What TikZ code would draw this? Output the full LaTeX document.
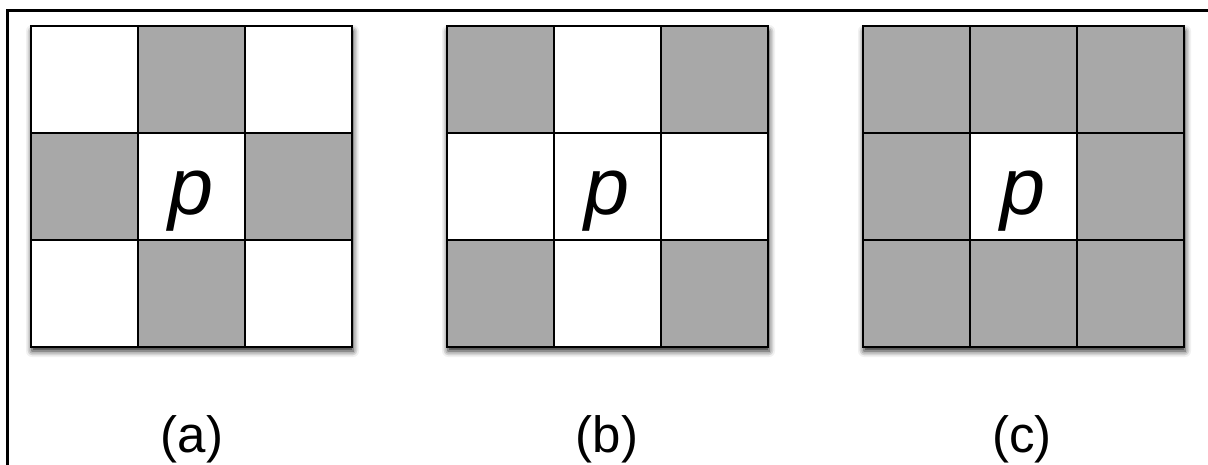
\documentclass[tikz,border=0pt]{standalone}
\usepackage{fontspec}
\setmainfont{Liberation Sans}
\usetikzlibrary{shadows.blur}
\definecolor{cellgray}{HTML}{A8A8A8}
\tikzset{
  cell/.style={draw=black, line width=1.6pt, minimum size=107pt, inner sep=0pt, outer sep=0pt, anchor=north west},
  gridframe/.style={draw=black, line width=2.8pt},
  shadowbox/.style={fill=white, blur shadow={shadow xshift=1pt, shadow yshift=-5pt, shadow blur radius=6pt, shadow opacity=90}},
  plabel/.style={font=\fontsize{81}{90}\selectfont\itshape, anchor=base, inner sep=0pt},
  caption/.style={font=\fontsize{51}{60}\selectfont, anchor=base, inner sep=0pt},
  frameline/.style={draw=black, line width=3pt}
}
\begin{document}
\begin{tikzpicture}[x=1pt,y=-1pt]
\useasboundingbox (0,0) rectangle (1208,464);
\coordinate (fbl) at (7,470);
\coordinate (ftl) at (7,10);
\coordinate (ftr) at (1212,10);
\draw[frameline] (fbl) -- (ftl) -- (ftr);

% grid (a)
\path[shadowbox] (31,26) rectangle (352,346);
\foreach \c/\r/\f in {0/0/white,1/0/cellgray,2/0/white,0/1/cellgray,1/1/white,2/1/cellgray,0/2/white,1/2/cellgray,2/2/white}
  \node[cell, fill=\f] (a\r\c) at ({31+107*\c},{26+107*\r}) {};
\draw[gridframe] (a00.north west) rectangle (a22.south east);
\node[plabel] (pa) at ([yshift=-27.5pt]a11.center) {p};
\node[caption] (ca) at (192,452) {(a)};

% grid (b)
\path[shadowbox] (447,26) rectangle (768,346);
\foreach \c/\r/\f in {0/0/cellgray,1/0/white,2/0/cellgray,0/1/white,1/1/white,2/1/white,0/2/cellgray,1/2/white,2/2/cellgray}
  \node[cell, fill=\f] (b\r\c) at ({447+107*\c},{26+107*\r}) {};
\draw[gridframe] (b00.north west) rectangle (b22.south east);
\node[plabel] (pb) at ([yshift=-27.5pt]b11.center) {p};
\node[caption] (cb) at (607,452) {(b)};

% grid (c)
\path[shadowbox] (863,26) rectangle (1184,346);
\foreach \c/\r/\f in {0/0/cellgray,1/0/cellgray,2/0/cellgray,0/1/cellgray,1/1/white,2/1/cellgray,0/2/cellgray,1/2/cellgray,2/2/cellgray}
  \node[cell, fill=\f] (c\r\c) at ({863+107*\c},{26+107*\r}) {};
\draw[gridframe] (c00.north west) rectangle (c22.south east);
\node[plabel] (pc) at ([yshift=-27.5pt]c11.center) {p};
\node[caption] (cc) at (1022,452) {(c)};
\end{tikzpicture}
\end{document}
